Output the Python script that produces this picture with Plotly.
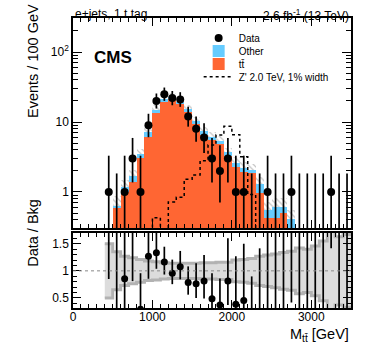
import plotly.graph_objects as go

# bins of 100 GeV, lower edges 400 ... 3400
bin_lo = list(range(400, 3500, 100))

data_n = [1, 0, 1, 3, 1, 9, 20, 25, 22, 21, 12, 8, 6, 3, 2, 3, 1, 1, 0, 0,
          1, 0, 0, 1, 0, 0, 0, 0, 1, 0, 0]
# Poisson (Garwood) intervals for the observed counts
err_lo = [0.83, 0, 0.83, 1.63, 0.83, 2.94, 4.43, 4.97, 4.65, 4.55, 3.42, 2.77,
          2.38, 1.63, 1.29, 1.63, 0.83, 0.83, 0, 0, 0.83, 0, 0, 0.83, 0, 0,
          0, 0, 0.83, 0, 0]
err_hi = [2.30, 1.84, 2.30, 2.92, 2.30, 4.11, 5.55, 6.07, 5.76, 5.66, 4.56,
          3.95, 3.58, 2.92, 2.64, 2.92, 2.30, 2.30, 1.84, 1.84, 2.30, 1.84,
          1.84, 2.30, 1.84, 1.84, 1.84, 1.84, 2.30, 1.84, 1.84]

ttbar = [0.18, 0.61, 1.0, 1.40, 3.1, 6.2, 13.3, 19.5, 21.0, 17.8, 13.8, 9.4,
         6.5, 5.5, 4.8, 3.3, 2.3, 1.95, 1.85, 0.97, 0.42, 0.43, 0.50, 0.20,
         0.10, 0.10, 0.09, 0.08, 0.06, 0.06, 0.05]
other = [0.02, 0.03, 0.17, 0.29, 0.35, 0.9, 1.7, 2.0, 2.0, 1.7, 1.5, 1.1,
         0.9, 0.7, 0.6, 0.4, 0.3, 0.25, 0.2, 0.33, 0.13, 0.19, 0.11, 0.21,
         0.08, 0.08, 0.08, 0.07, 0.06, 0.06, 0.05]
# relative background uncertainty
bkg_unc = [0.50, 0.35, 0.27, 0.24, 0.21, 0.18, 0.17, 0.15, 0.14, 0.14, 0.14,
           0.14, 0.15, 0.15, 0.16, 0.16, 0.20, 0.21, 0.23, 0.27, 0.29, 0.31,
           0.34, 0.36, 0.42, 0.40, 0.46, 0.55, 0.75, 0.63, 0.67]

zprime = [0, 0, 0, 0, 0, 0, 0.43, 0, 0.72, 0.84, 1.52, 1.75, 2.8, 4.7, 6.5,
          8.7, 6.6, 3.2, 0.92, 0, 0, 0, 0, 0, 0, 0, 0, 0, 0, 0, 0]

C = {'tt': '#ff6633', 'other': '#66ccff', 'band': '#dcdcdc',
     'band_edge': '#b2b2b2', 'hatch': '#8c8c8c'}
FONT = 'Liberation Sans, Arial, sans-serif'
TINY = 1e-3  # stands in for zero on the log axis (clipped away)

width = 100
centers = [b + width / 2 for b in bin_lo]
edges = bin_lo + [bin_lo[-1] + width]
bkg = [t + o for t, o in zip(ttbar, other)]

fig = go.Figure()

# ── top panel ──
fig.add_trace(go.Bar(
    x=centers, y=[b * 2 * u for b, u in zip(bkg, bkg_unc)],
    base=[b * (1 - u) for b, u in zip(bkg, bkg_unc)], width=width,
    marker=dict(color='rgba(0,0,0,0)', line=dict(width=0),
                pattern=dict(shape='\\', fgcolor=C['hatch'],
                             bgcolor='rgba(0,0,0,0)', size=4, solidity=0.3)),
    showlegend=False, hoverinfo='skip'))
fig.add_trace(go.Bar(
    x=centers, y=ttbar, width=width, name='tt\u0304', legend='legend3',
    marker=dict(color=C['tt'], line=dict(width=0))))
fig.add_trace(go.Bar(
    x=centers, y=other, base=ttbar, width=width, name='Other',
    legend='legend2', marker=dict(color=C['other'], line=dict(width=0))))

zp = [v if v > 0 else TINY for v in zprime]
fig.add_trace(go.Scatter(
    x=edges, y=zp + [zp[-1]], mode='lines', line_shape='hv',
    line=dict(color='black', width=1.5, dash='dot'),
    name="Z' 2.0 TeV, 1% width", legend='legend4'))

ex, ey = [], []
for c, n, lo, hi in zip(centers, data_n, err_lo, err_hi):
    ex += [c, c, None]
    ey += [max(n - lo, TINY), n + hi, None]
fig.add_trace(go.Scatter(x=ex, y=ey, mode='lines',
                         line=dict(color='black', width=1.7),
                         showlegend=False, hoverinfo='skip'))
fig.add_trace(go.Scatter(
    x=[c for c, n in zip(centers, data_n) if n > 0],
    y=[n for n in data_n if n > 0], mode='markers', name='Data',
    legend='legend', marker=dict(color='black', size=8)))

# ── ratio panel ──
band_lo = [1 - u for u in bkg_unc]
band_hi = [1 + u for u in bkg_unc]
fig.add_trace(go.Scatter(
    x=edges, y=band_lo + [band_lo[-1]], mode='lines', line_shape='hv',
    line=dict(width=0), xaxis='x2', yaxis='y2', showlegend=False,
    hoverinfo='skip'))
fig.add_trace(go.Scatter(
    x=edges, y=band_hi + [band_hi[-1]], mode='lines', line_shape='hv',
    line=dict(width=0), fill='tonexty', fillcolor=C['band'],
    xaxis='x2', yaxis='y2', showlegend=False, hoverinfo='skip'))
for edge in (band_lo, band_hi):
    fig.add_trace(go.Scatter(
        x=edges, y=edge + [edge[-1]], mode='lines', line_shape='hv',
        line=dict(color=C['band_edge'], width=3), xaxis='x2', yaxis='y2',
        showlegend=False, hoverinfo='skip'))

ratio = [n / b for n, b in zip(data_n, bkg)]
rx, ry = [], []
for c, n, lo, hi, b in zip(centers, data_n, err_lo, err_hi, bkg):
    rx += [c, c, None]
    ry += [(n - lo) / b, (n + hi) / b, None]
fig.add_trace(go.Scatter(x=rx, y=ry, mode='lines', xaxis='x2', yaxis='y2',
                         line=dict(color='black', width=1.7),
                         showlegend=False, hoverinfo='skip'))
fig.add_trace(go.Scatter(
    x=[c for c, n in zip(centers, data_n) if n > 0],
    y=[r for r, n in zip(ratio, data_n) if n > 0], mode='markers',
    xaxis='x2', yaxis='y2', marker=dict(color='black', size=7),
    showlegend=False))

fig.add_shape(type='line', xref='paper', x0=0, x1=1, yref='y2', y0=1, y1=1,
              line=dict(color='#888888', width=1, dash='dot'))

# empty traces so the top/right tick axes exist
for xa, ya in (('x3', 'y'), ('x', 'y3'), ('x4', 'y2'), ('x2', 'y4')):
    fig.add_trace(go.Scatter(x=[], y=[], xaxis=xa, yaxis=ya,
                             showlegend=False, hoverinfo='skip'))

# ── axes ──
frame = dict(showline=True, linecolor='black', linewidth=1.5, mirror=True,
             ticks='inside', tickcolor='black', showgrid=False, zeroline=False,
             tickfont=dict(size=12, color='black'))
log_minor = [m * 10 ** k for k in (-1, 0, 1, 2) for m in range(2, 10)]

x_ticks = dict(range=[0, 3500], tickvals=[0, 1000, 2000, 3000], ticklen=8,
               minor=dict(dtick=100, ticks='inside', ticklen=4,
                          tickcolor='black'))
ylog_ticks = dict(type='log', range=[-0.514, 2.486], tickvals=[1, 10, 100],
                  ticktext=['1', '10', '10<sup>2</sup>'], ticklen=9,
                  minor=dict(tickvals=log_minor, ticks='inside', ticklen=5,
                             tickcolor='black'))
yrat_ticks = dict(range=[0.315, 1.70], tickvals=[0.5, 1, 1.5], ticklen=8,
                  minor=dict(dtick=0.1, ticks='inside', ticklen=4,
                             tickcolor='black'))
# tick-only copies for the top and right edges
mirror = dict(ticks='inside', tickcolor='black', showgrid=False,
              zeroline=False, showline=False, showticklabels=False)

# one legend per entry so the rows can sit closer than plotly's minimum
leg = dict(x=0.452, xanchor='left', yanchor='middle', bgcolor='rgba(0,0,0,0)',
           font=dict(size=10), itemwidth=30)

fig.update_layout(
    width=374, height=351, margin=dict(l=73, r=23, t=18, b=43),
    paper_bgcolor='white', plot_bgcolor='white',
    font=dict(family=FONT, color='black', size=12),
    barmode='overlay', bargap=0,
    xaxis=dict(frame, **x_ticks, domain=[0, 1], anchor='y',
               showticklabels=False),
    yaxis=dict(frame, **ylog_ticks, domain=[0.276, 1], anchor='x'),
    xaxis2=dict(frame, **x_ticks, domain=[0, 1], anchor='y2',
                ticklabelstandoff=-3),
    yaxis2=dict(frame, **yrat_ticks, domain=[0, 0.259], anchor='x2'),
    xaxis3=dict(mirror, **x_ticks, overlaying='x', anchor='y', side='top'),
    yaxis3=dict(mirror, **ylog_ticks, overlaying='y', anchor='x',
                side='right'),
    xaxis4=dict(mirror, **x_ticks, overlaying='x2', anchor='y2', side='top'),
    yaxis4=dict(mirror, **yrat_ticks, overlaying='y2', anchor='x2',
                side='right'),
    legend=dict(leg, y=0.931),
    legend2=dict(leg, y=0.886),
    legend3=dict(leg, y=0.841),
    legend4=dict(leg, y=0.797),
    showlegend=True,
)

ann = [
    dict(text='e+jets, 1 t tag', x=0, y=1.045, xanchor='left', font_size=12),
    dict(text='2.6 fb<sup>-1</sup> (13 TeV)', x=1, y=1.045, xanchor='right',
         font_size=12),
    dict(text='<b>CMS</b>', x=0.07, y=0.905, xanchor='left', font_size=17),
    dict(text='Events / 100 GeV', x=-0.18, y=1.055, yanchor='top',
         textangle=-90, font_size=14.5),
    dict(text='Data / Bkg', x=-0.18, y=0.135, textangle=-90, font_size=14.5),
    dict(text='M<sub>tt\u0304</sub> [GeV]', x=1, y=-0.055, xanchor='right',
         yanchor='top', font_size=14.5),
]
for a in ann:
    fig.add_annotation(xref='paper', yref='paper', showarrow=False, **a)

# the page's default body margin would shift the figure by 8 px
fig.write_html('out.html', config={'displayModeBar': False},
               post_script="document.body.style.margin='0';")
